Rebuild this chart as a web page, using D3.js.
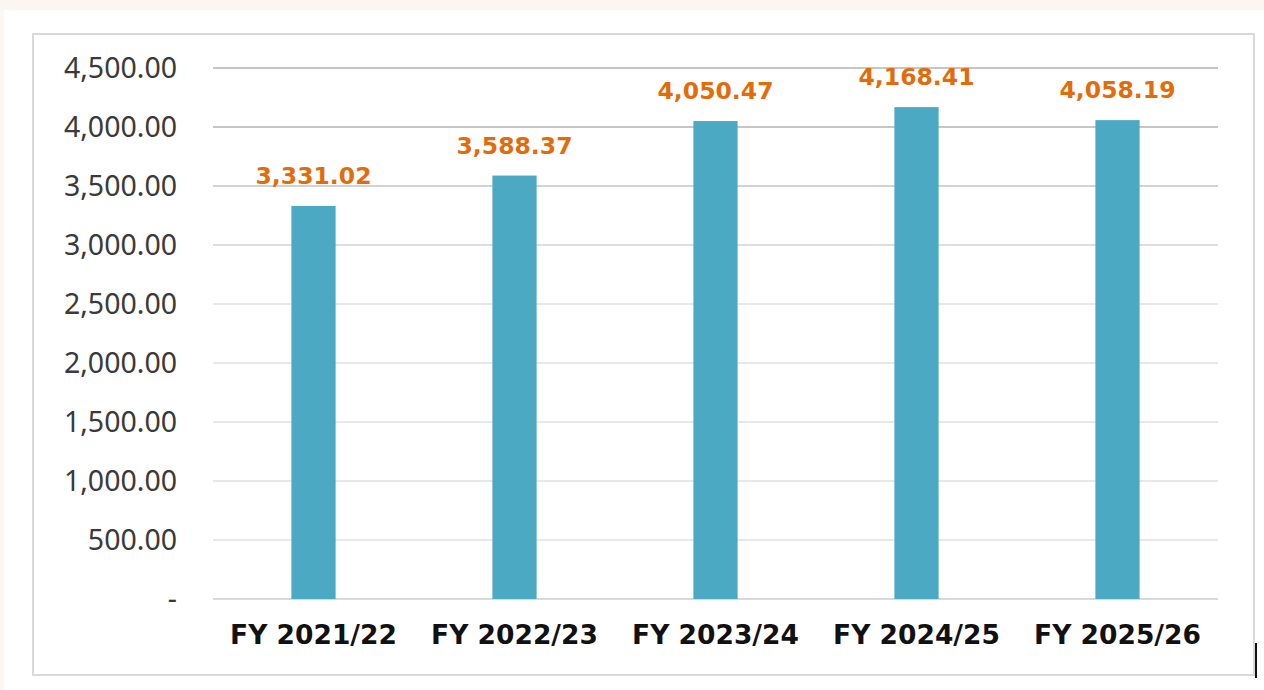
<!DOCTYPE html>
<html>
<head>
<meta charset="utf-8">
<script src="https://cdn.jsdelivr.net/npm/d3@7"></script>
<style>
  body { margin: 0; background: #fcf6f3; }
  #chart { position: absolute; left: 4px; top: 10px; width: 1260px; height: 680px; background: #fff; }
</style>
</head>
<body>
<div id="chart"></div>
<script>
var years = ["FY 2021/22", "FY 2022/23", "FY 2023/24", "FY 2024/25", "FY 2025/26"];
var values = [3331.02, 3588.37, 4050.47, 4168.41, 4058.19];
var yTicks = [0, 500, 1000, 1500, 2000, 2500, 3000, 3500, 4000, 4500];

// plot area, in page coordinates minus the chart div offset
var margin = {top: 58, left: 209, right: 46, bottom: 91},
    W = 1260, H = 680,
    width = W - margin.left - margin.right,
    height = H - margin.top - margin.bottom;

var svg = d3.select("#chart")
    .append("svg")
    .attr("width", W)
    .attr("height", H);

// outer frame
svg.append("rect")
    .attr("x", 29).attr("y", 24)
    .attr("width", 1221).attr("height", 641)
    .attr("fill", "none")
    .attr("stroke", "#d9d9d9")
    .attr("stroke-width", 2);

// little black mark at bottom right
svg.append("line")
    .attr("x1", 1252).attr("x2", 1252)
    .attr("y1", 633).attr("y2", 668)
    .attr("stroke", "#111").attr("stroke-width", 2);

var g = svg.append("g")
    .attr("transform", "translate(" + margin.left + "," + margin.top + ")");

var x = d3.scaleBand()
    .domain(years)
    .range([0, width])
    .paddingInner(0.78)
    .paddingOuter(0.39);

var y = d3.scaleLinear()
    .domain([0, 4500])
    .range([height, 0]);

// gridlines, darker toward the top
var gridColor = function(d) {
    if (d === 0) return "#d9d9d9";
    if (d >= 4000) return "#c6c6c6";
    if (d === 3500) return "#d2d2d2";
    if (d === 3000) return "#dedede";
    return "#e8e8e8";
};
g.selectAll(".grid")
    .data(yTicks)
    .enter()
    .append("line")
    .attr("class", "grid")
    .attr("x1", 0).attr("x2", width)
    .attr("y1", function(d) { return y(d); })
    .attr("y2", function(d) { return y(d); })
    .attr("stroke", gridColor)
    .attr("stroke-width", 2);

// Y axis labels
var fmt = d3.format(",.2f");
var yAxis = g.append("g")
    .call(d3.axisLeft(y).tickValues(yTicks).tickSize(0).tickPadding(36)
        .tickFormat(function(d) { return d === 0 ? "-" : fmt(d); }));
yAxis.select(".domain").remove();
yAxis.selectAll("text")
    .attr("font-family", "'Noto Sans', sans-serif")
    .attr("font-size", "28.5px")
    .attr("fill", "#3a3a3a");

// X axis labels
var xAxis = g.append("g")
    .attr("transform", "translate(0," + height + ")")
    .call(d3.axisBottom(x).tickSize(0).tickPadding(26));
xAxis.select(".domain").remove();
xAxis.selectAll("text")
    .attr("font-family", "'DejaVu Sans', sans-serif")
    .attr("font-weight", "bold")
    .attr("font-size", "26.5px")
    .attr("fill", "#111");

// bars
g.selectAll(".bar")
    .data(values)
    .enter()
    .append("rect")
    .attr("class", "bar")
    .attr("x", function(d, i) { return x(years[i]); })
    .attr("y", function(d) { return y(d); })
    .attr("width", x.bandwidth())
    .attr("height", function(d) { return height - y(d); })
    .attr("fill", "#4ba9c4");

// value labels
g.selectAll(".val")
    .data(values)
    .enter()
    .append("text")
    .attr("class", "val")
    .attr("x", function(d, i) { return x(years[i]) + x.bandwidth() / 2; })
    .attr("y", function(d) { return y(d) - 22; })
    .attr("text-anchor", "middle")
    .attr("font-family", "'DejaVu Sans', sans-serif")
    .attr("font-weight", "bold")
    .attr("font-size", "23.5px")
    .attr("fill", "#e36c0a")
    .text(function(d) { return fmt(d); });
</script>
</body>
</html>
